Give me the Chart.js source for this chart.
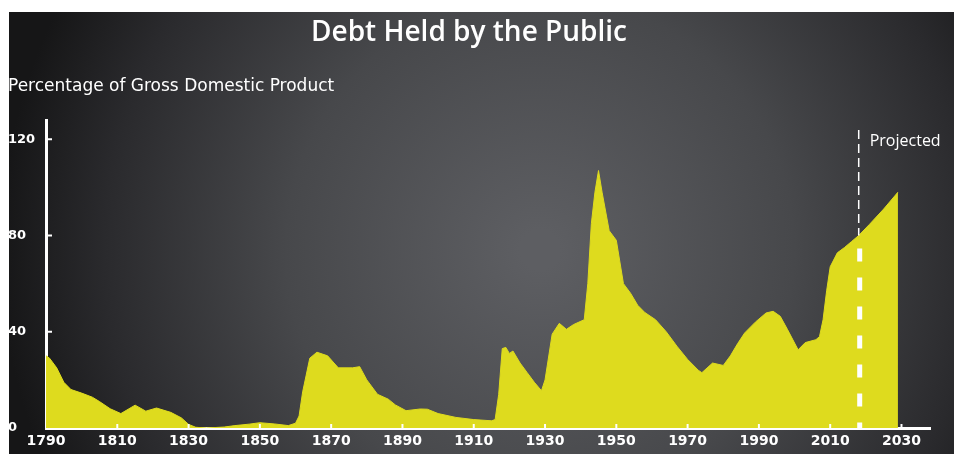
<!DOCTYPE html>
<html>
<head>
<meta charset="utf-8">
<title>Debt Held by the Public</title>
<script src="https://cdn.jsdelivr.net/npm/chart.js@4/dist/chart.umd.min.js"></script>
<style>
  html, body { margin: 0; padding: 0; background: #fff; }
</style>
</head>
<body>
<canvas id="debtChart" width="954" height="454"></canvas>
<script>
// debt held by the public, % of GDP (2019 onward is projected)
const years = [1790, 1791, 1793, 1795, 1797, 1800, 1803, 1805, 1808, 1811, 1815, 1818, 1821, 1825, 1828,
  1830, 1832, 1835, 1840, 1843, 1847, 1850, 1854, 1858, 1860, 1861, 1862, 1863, 1864, 1866, 1869,
  1872, 1876, 1878, 1880, 1883, 1886, 1888, 1891, 1895, 1897, 1900, 1905, 1910, 1915, 1916, 1917,
  1918, 1919, 1920, 1921, 1923, 1925, 1927, 1929, 1930, 1932, 1934, 1936, 1938, 1941, 1942, 1943,
  1944, 1945, 1946, 1948, 1950, 1952, 1954, 1956, 1958, 1961, 1964, 1967, 1970, 1973, 1974, 1977,
  1980, 1982, 1984, 1986, 1989, 1992, 1994, 1996, 1998, 2001, 2003, 2006, 2007, 2008, 2009, 2010,
  2012, 2014, 2016, 2018, 2021, 2025, 2029];
const debtPct = [30, 29, 25, 19, 16, 14.5, 12.8, 11, 8, 6, 9.5, 7, 8.3, 6.5, 4.2,
  1.5, 0.3, 0, 0.4, 1, 1.6, 2.2, 1.7, 1, 2, 5, 15, 22, 29, 31.5, 30,
  25, 25, 25.5, 20, 14, 12, 9.6, 7.2, 7.9, 7.8, 6, 4.4, 3.5, 3, 3.5, 14,
  33, 33.5, 31, 32, 27, 23, 19, 15.5, 20, 39, 43.5, 41, 43, 45, 60, 85,
  98, 107, 98, 82, 78, 60, 56, 51, 48, 45, 40, 34, 28.5, 24, 23, 27,
  26, 30, 35, 39.5, 44, 47.8, 48.5, 46.4, 41, 32.5, 35.5, 36.7, 38, 45, 57, 67,
  72.8, 75, 77.5, 80, 84.6, 91, 98];
const xTicks = [1790, 1810, 1830, 1850, 1870, 1890, 1910, 1930, 1950, 1970, 1990, 2010, 2030];
const yTicks = [0, 40, 80, 120];
const projectionYear = 2018;

const chartTitle = 'Debt Held by the Public';
const axisTitle = 'Percentage of Gross Domestic Product';
const projectedLabel = 'Projected';

const chalkYellow = '#dedb1e';
const chalkFont = '"Open Sans", sans-serif';
const tickFont = '"DejaVu Sans", sans-serif';

// blackboard behind the plot, with the white margin of the original crop
const chalkboard = {
  id: 'chalkboard',
  beforeDraw(chart) {
    const { ctx, width, height } = chart;
    ctx.save();
    ctx.fillStyle = '#ffffff';
    ctx.fillRect(0, 0, width, height);
    const g = ctx.createRadialGradient(540, 250, 20, 540, 250, 540);
    g.addColorStop(0, '#5d5e62');
    g.addColorStop(0.45, '#47484b');
    g.addColorStop(0.8, '#2a2a2d');
    g.addColorStop(1, '#161617');
    ctx.fillStyle = g;
    ctx.fillRect(9, 12, width - 9, height - 12);
    ctx.restore();
  }
};

// inward tick marks plus the projection divider
const chalkMarks = {
  id: 'chalkMarks',
  afterDraw(chart) {
    const { ctx, chartArea } = chart;
    const x = chart.scales.x;
    const y = chart.scales.y;
    ctx.save();
    ctx.strokeStyle = '#ffffff';
    ctx.lineWidth = 2;
    xTicks.slice(1).forEach(t => {
      const px = x.getPixelForValue(t);
      ctx.beginPath();
      ctx.moveTo(px, chartArea.bottom);
      ctx.lineTo(px, chartArea.bottom - 4);
      ctx.stroke();
    });
    yTicks.slice(1).forEach(t => {
      const py = y.getPixelForValue(t);
      ctx.beginPath();
      ctx.moveTo(chartArea.left, py);
      ctx.lineTo(chartArea.left + 6, py);
      ctx.stroke();
    });

    // value at the projection year, interpolated between the data points
    let v = 0;
    for (let i = 1; i < years.length; i++) {
      if (years[i] >= projectionYear) {
        const f = (projectionYear - years[i - 1]) / (years[i] - years[i - 1]);
        v = debtPct[i - 1] + f * (debtPct[i] - debtPct[i - 1]);
        break;
      }
    }
    const px = x.getPixelForValue(projectionYear);
    const py = y.getPixelForValue(v);
    ctx.lineWidth = 1.5;
    ctx.setLineDash([9, 5]);
    ctx.beginPath();
    ctx.moveTo(px, chartArea.top + 10);
    ctx.lineTo(px, py);
    ctx.stroke();
    ctx.lineWidth = 5;
    ctx.setLineDash([13, 16]);
    ctx.beginPath();
    ctx.moveTo(px + 1, py + 13);
    ctx.lineTo(px + 1, chartArea.bottom);
    ctx.stroke();

    ctx.setLineDash([]);
    ctx.fillStyle = '#ffffff';
    ctx.font = '16px ' + chalkFont;
    ctx.textBaseline = 'middle';
    ctx.fillText(projectedLabel, px + 11, chartArea.top + 21);
    ctx.restore();
  }
};

new Chart(document.getElementById('debtChart').getContext('2d'), {
  type: 'line',
  data: {
    datasets: [{
      label: 'Debt held by the public',
      data: years.map((yr, i) => ({ x: yr, y: debtPct[i] })),
      borderColor: chalkYellow,
      backgroundColor: chalkYellow,
      borderWidth: 1,
      fill: 'origin',
      pointRadius: 0,
      tension: 0
    }]
  },
  options: {
    responsive: false,
    animation: false,
    layout: { padding: { left: 8, right: 24, top: 0, bottom: 0 } },
    plugins: {
      legend: { display: false },
      tooltip: { enabled: false },
      title: {
        display: true,
        text: chartTitle,
        color: '#ffffff',
        font: { family: chalkFont, size: 28, weight: '600' },
        padding: { top: 16, bottom: 7 }
      },
      subtitle: {
        display: true,
        text: axisTitle,
        align: 'start',
        color: '#ffffff',
        font: { family: tickFont, size: 17, weight: 'normal' },
        padding: { top: 20, bottom: 23 }
      }
    },
    scales: {
      x: {
        type: 'linear',
        min: 1790,
        max: 2038,
        z: 1,
        afterBuildTicks: s => { s.ticks = xTicks.map(v => ({ value: v })); },
        afterFit: s => { s.height = 26; },
        grid: { display: false, drawTicks: false },
        border: { color: '#ffffff', width: 3 },
        ticks: {
          color: '#ffffff',
          font: { family: tickFont, size: 14, weight: 'bold' },
          padding: 5,
          maxRotation: 0,
          autoSkip: false,
          callback: v => String(v)
        }
      },
      y: {
        min: 0,
        max: 128,
        z: 1,
        afterBuildTicks: s => { s.ticks = yTicks.map(v => ({ value: v })); },
        afterFit: s => { s.width = 38; },
        grid: { display: false, drawTicks: false },
        border: { color: '#ffffff', width: 3 },
        ticks: {
          color: '#ffffff',
          font: { family: tickFont, size: 13, weight: 'bold' },
          crossAlign: 'far',
          padding: 0
        }
      }
    }
  },
  plugins: [chalkboard, chalkMarks]
});
</script>
</body>
</html>
